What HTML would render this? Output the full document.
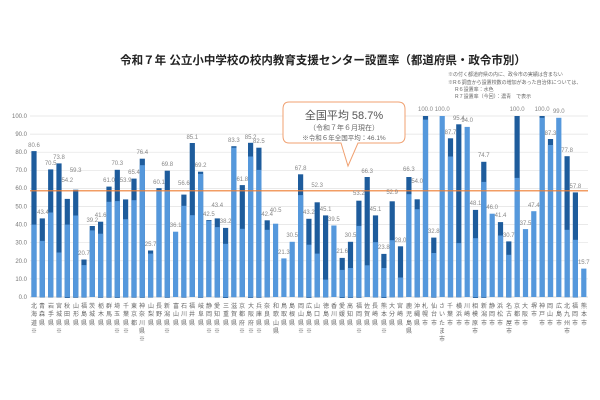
<!DOCTYPE html>
<html><head><meta charset="utf-8"><style>
body{margin:0;width:600px;height:400px;background:#fff;position:relative;overflow:hidden;font-family:"Liberation Sans","Noto Sans CJK JP",sans-serif}
.xl{position:absolute;top:303px;width:6px;font-size:6px;line-height:8.3px;word-break:break-all;color:#666;text-align:center}
</style></head><body>
<svg width="600" height="400" style="position:absolute;left:0;top:0" font-family="Liberation Sans, Noto Sans CJK JP, sans-serif">
<text x="323" y="64" font-size="11.5" font-weight="bold" text-anchor="middle" fill="#222">令和７年 公立小中学校の校内教育支援センター設置率（都道府県・政令市別）</text>
<g font-size="5" fill="#666">
<text x="448" y="76">※の付く都道府県の内に、政令市の実績は含まない</text>
<text x="448" y="84">※R６調査から設置校数の増加があった自治体については、</text>
<text x="455" y="91">R６設置率：水色</text>
<text x="455" y="98">R７設置率（今回）：濃青　で表示</text>
</g>
<g stroke="#e2e2e2" stroke-width="0.7">
<line x1="30" x2="588" y1="116" y2="116"/><line x1="30" x2="588" y1="134.1" y2="134.1"/><line x1="30" x2="588" y1="152.2" y2="152.2"/><line x1="30" x2="588" y1="170.3" y2="170.3"/><line x1="30" x2="588" y1="188.4" y2="188.4"/><line x1="30" x2="588" y1="206.5" y2="206.5"/><line x1="30" x2="588" y1="224.6" y2="224.6"/><line x1="30" x2="588" y1="242.7" y2="242.7"/><line x1="30" x2="588" y1="260.8" y2="260.8"/><line x1="30" x2="588" y1="278.9" y2="278.9"/><line x1="30" x2="588" y1="297" y2="297" stroke="#ccc"/>
</g>
<g font-size="6" fill="#777" text-anchor="end">
<text x="27" y="118">100.0</text><text x="27" y="136">90.0</text><text x="27" y="154">80.0</text><text x="27" y="172">70.0</text><text x="27" y="190">60.0</text><text x="27" y="208.5">50.0</text><text x="27" y="226.5">40.0</text><text x="27" y="244.5">30.0</text><text x="27" y="263">20.0</text><text x="27" y="281">10.0</text><text x="27" y="299">0.0</text>
</g>
<g id="dark" fill="#1e5c9c">
<rect x="31.4" y="151.1" width="5.2" height="146"/>
<rect x="39.7" y="218.4" width="5.2" height="79"/>
<rect x="48.1" y="169.4" width="5.2" height="128"/>
<rect x="56.4" y="163.4" width="5.2" height="134"/>
<rect x="64.7" y="198.9" width="5.2" height="99"/>
<rect x="73.1" y="189.7" width="5.2" height="108"/>
<rect x="81.4" y="259.5" width="5.2" height="38"/>
<rect x="89.7" y="226.0" width="5.2" height="71"/>
<rect x="98.0" y="221.7" width="5.2" height="76"/>
<rect x="106.4" y="186.6" width="5.2" height="111"/>
<rect x="114.7" y="169.8" width="5.2" height="128"/>
<rect x="123.0" y="199.4" width="5.2" height="98"/>
<rect x="131.4" y="178.6" width="5.2" height="119"/>
<rect x="139.7" y="158.7" width="5.2" height="139"/>
<rect x="148.0" y="250.5" width="5.2" height="47"/>
<rect x="156.4" y="188.2" width="5.2" height="109"/>
<rect x="164.7" y="170.7" width="5.2" height="127"/>
<rect x="181.3" y="194.6" width="5.2" height="103"/>
<rect x="189.7" y="143.0" width="5.2" height="154"/>
<rect x="198.0" y="171.7" width="5.2" height="126"/>
<rect x="206.3" y="220.1" width="5.2" height="77"/>
<rect x="214.7" y="218.4" width="5.2" height="79"/>
<rect x="223.0" y="227.9" width="5.2" height="70"/>
<rect x="231.3" y="146.2" width="5.2" height="151"/>
<rect x="239.7" y="185.1" width="5.2" height="112"/>
<rect x="248.0" y="142.8" width="5.2" height="155"/>
<rect x="256.3" y="147.7" width="5.2" height="150"/>
<rect x="264.6" y="220.3" width="5.2" height="77"/>
<rect x="298.0" y="174.3" width="5.2" height="123"/>
<rect x="306.3" y="218.8" width="5.2" height="79"/>
<rect x="314.6" y="202.3" width="5.2" height="95"/>
<rect x="323.0" y="215.4" width="5.2" height="82"/>
<rect x="339.6" y="257.9" width="5.2" height="40"/>
<rect x="347.9" y="241.8" width="5.2" height="56"/>
<rect x="356.3" y="200.7" width="5.2" height="97"/>
<rect x="364.6" y="177.0" width="5.2" height="120"/>
<rect x="372.9" y="215.4" width="5.2" height="82"/>
<rect x="381.3" y="253.9" width="5.2" height="44"/>
<rect x="389.6" y="201.3" width="5.2" height="96"/>
<rect x="397.9" y="246.3" width="5.2" height="51"/>
<rect x="406.3" y="177.0" width="5.2" height="120"/>
<rect x="414.6" y="199.3" width="5.2" height="98"/>
<rect x="422.9" y="116" width="5.2" height="181"/>
<rect x="431.2" y="237.6" width="5.2" height="60"/>
<rect x="447.9" y="138.3" width="5.2" height="159"/>
<rect x="456.2" y="124.3" width="5.2" height="173"/>
<rect x="472.9" y="209.9" width="5.2" height="88"/>
<rect x="481.2" y="161.8" width="5.2" height="136"/>
<rect x="497.9" y="222.1" width="5.2" height="75"/>
<rect x="506.2" y="241.4" width="5.2" height="56"/>
<rect x="514.5" y="116" width="5.2" height="181"/>
<rect x="539.5" y="116" width="5.2" height="181"/>
<rect x="547.9" y="139.0" width="5.2" height="158"/>
<rect x="564.5" y="156.2" width="5.2" height="141"/>
<rect x="572.8" y="192.4" width="5.2" height="105"/>
</g>
<g fill="#5598dc">
<rect x="31.4" y="224.6" width="5.2" height="72.4"/>
<rect x="39.7" y="240.9" width="5.2" height="56.1"/>
<rect x="48.1" y="212.5" width="5.2" height="84.5"/>
<rect x="56.4" y="252.5" width="5.2" height="44.5"/>
<rect x="64.7" y="224.6" width="5.2" height="72.4"/>
<rect x="73.1" y="215.5" width="5.2" height="81.5"/>
<rect x="81.4" y="265.1" width="5.2" height="31.9"/>
<rect x="89.7" y="230.4" width="5.2" height="66.6"/>
<rect x="98.0" y="233.7" width="5.2" height="63.3"/>
<rect x="106.4" y="201.8" width="5.2" height="95.2"/>
<rect x="114.7" y="201.1" width="5.2" height="95.9"/>
<rect x="123.0" y="219.2" width="5.2" height="77.8"/>
<rect x="131.4" y="200.2" width="5.2" height="96.8"/>
<rect x="139.7" y="165.2" width="5.2" height="131.8"/>
<rect x="148.0" y="253.6" width="5.2" height="43.4"/>
<rect x="156.4" y="190.2" width="5.2" height="106.8"/>
<rect x="164.7" y="190.2" width="5.2" height="106.8"/>
<rect x="173.0" y="231.7" width="5.2" height="65.3"/>
<rect x="181.3" y="205.8" width="5.2" height="91.2"/>
<rect x="189.7" y="215.2" width="5.2" height="81.8"/>
<rect x="198.0" y="173.9" width="5.2" height="123.1"/>
<rect x="206.3" y="221.0" width="5.2" height="76"/>
<rect x="214.7" y="227.1" width="5.2" height="69.9"/>
<rect x="223.0" y="243.8" width="5.2" height="53.2"/>
<rect x="231.3" y="147.7" width="5.2" height="149.3"/>
<rect x="239.7" y="228.8" width="5.2" height="68.2"/>
<rect x="248.0" y="156.5" width="5.2" height="140.5"/>
<rect x="256.3" y="169.9" width="5.2" height="127.1"/>
<rect x="264.6" y="229.8" width="5.2" height="67.2"/>
<rect x="273.0" y="223.7" width="5.2" height="73.3"/>
<rect x="281.3" y="258.4" width="5.2" height="38.6"/>
<rect x="289.6" y="241.8" width="5.2" height="55.2"/>
<rect x="298.0" y="195.1" width="5.2" height="101.9"/>
<rect x="306.3" y="244.7" width="5.2" height="52.3"/>
<rect x="314.6" y="253.6" width="5.2" height="43.4"/>
<rect x="323.0" y="279.6" width="5.2" height="17.4"/>
<rect x="331.3" y="225.5" width="5.2" height="71.5"/>
<rect x="339.6" y="269.9" width="5.2" height="27.1"/>
<rect x="347.9" y="268.0" width="5.2" height="29"/>
<rect x="356.3" y="225.9" width="5.2" height="71.1"/>
<rect x="364.6" y="265.3" width="5.2" height="31.7"/>
<rect x="372.9" y="242.2" width="5.2" height="54.8"/>
<rect x="381.3" y="268.0" width="5.2" height="29"/>
<rect x="389.6" y="240.2" width="5.2" height="56.8"/>
<rect x="397.9" y="277.5" width="5.2" height="19.5"/>
<rect x="406.3" y="194.2" width="5.2" height="102.8"/>
<rect x="414.6" y="209.2" width="5.2" height="87.8"/>
<rect x="422.9" y="119.6" width="5.2" height="177.4"/>
<rect x="431.2" y="253.0" width="5.2" height="44"/>
<rect x="439.6" y="116" width="5.2" height="181"/>
<rect x="447.9" y="156.5" width="5.2" height="140.5"/>
<rect x="456.2" y="243.1" width="5.2" height="53.9"/>
<rect x="464.6" y="126.9" width="5.2" height="170.1"/>
<rect x="472.9" y="238.2" width="5.2" height="58.8"/>
<rect x="481.2" y="181.9" width="5.2" height="115.1"/>
<rect x="489.6" y="213.7" width="5.2" height="83.3"/>
<rect x="497.9" y="235.5" width="5.2" height="61.5"/>
<rect x="506.2" y="254.8" width="5.2" height="42.2"/>
<rect x="514.5" y="177.9" width="5.2" height="119.1"/>
<rect x="522.9" y="229.1" width="5.2" height="67.9"/>
<rect x="531.2" y="211.2" width="5.2" height="85.8"/>
<rect x="539.5" y="117.8" width="5.2" height="179.2"/>
<rect x="547.9" y="145.0" width="5.2" height="152"/>
<rect x="556.2" y="117.8" width="5.2" height="179.2"/>
<rect x="564.5" y="229.8" width="5.2" height="67.2"/>
<rect x="572.8" y="239.8" width="5.2" height="57.2"/>
<rect x="581.2" y="268.6" width="5.2" height="28.4"/>
</g>
<line x1="30" x2="588" y1="190.8" y2="190.8" stroke="#ed7d31" stroke-width="1.2"/>
<g font-size="6" fill="#888" text-anchor="middle">
<text x="34" y="147">80.6</text><text x="43" y="214">43.4</text><text x="50.7" y="165">70.5</text><text x="59" y="159">73.8</text><text x="67.3" y="182">54.2</text><text x="75.7" y="172">59.3</text><text x="84" y="255">20.7</text><text x="92.3" y="222">39.2</text><text x="100.6" y="217">41.6</text><text x="109" y="182">61.0</text><text x="117.3" y="165">70.3</text><text x="125.6" y="182">53.9</text><text x="134" y="174">65.4</text><text x="142.3" y="154">76.4</text><text x="150.6" y="246">25.7</text><text x="159" y="184">60.1</text><text x="167.3" y="166">69.8</text><text x="175.6" y="227">36.1</text><text x="183.9" y="185">56.6</text><text x="192.3" y="139">85.1</text><text x="200.6" y="167">69.2</text><text x="208.9" y="216">42.5</text><text x="217.3" y="207">43.4</text><text x="225.6" y="223">38.2</text><text x="233.9" y="142">83.3</text><text x="242.3" y="181">61.8</text><text x="250.6" y="139">85.2</text><text x="258.9" y="143">82.5</text><text x="267.2" y="216">42.4</text><text x="275.6" y="212">40.5</text><text x="283.9" y="254">21.3</text><text x="292.2" y="237">30.5</text><text x="300.6" y="170">67.8</text><text x="308.9" y="214">43.2</text><text x="317.2" y="187">52.3</text><text x="325.6" y="211">45.1</text><text x="333.9" y="221">39.5</text><text x="342.2" y="253">21.6</text><text x="350.5" y="237">30.5</text><text x="358.9" y="195">53.2</text><text x="367.2" y="173">66.3</text><text x="375.5" y="211">45.1</text><text x="383.9" y="249">23.8</text><text x="392.2" y="194">52.9</text><text x="400.5" y="242">28.0</text><text x="408.9" y="171">66.3</text><text x="417.2" y="183">54.0</text><text x="425.5" y="111">100.0</text><text x="433.8" y="233">32.8</text><text x="442.2" y="111">100.0</text><text x="450.5" y="134">87.7</text><text x="458.8" y="120">95.4</text><text x="467.2" y="122">94.0</text><text x="475.5" y="205">48.1</text><text x="483.8" y="157">74.7</text><text x="492.2" y="209">46.0</text><text x="500.5" y="217">41.4</text><text x="508.8" y="237">30.7</text><text x="517.1" y="111">100.0</text><text x="525.5" y="225">37.5</text><text x="533.8" y="207">47.4</text><text x="542.1" y="111">100.0</text><text x="550.5" y="135">87.3</text><text x="558.8" y="113">99.0</text><text x="567.1" y="152">77.8</text><text x="575.4" y="188">57.8</text><text x="583.8" y="264">15.7</text>
</g>
<path d="M289,102 H398 Q405,102 405,109 V136 Q405,143 398,143 H358 L348,166 L341,143 H289 Q283,143 283,136 V109 Q283,102 289,102 Z" fill="#fff" stroke="#f0a070" stroke-width="1"/>
<text x="344" y="119" font-size="11" text-anchor="middle" fill="#555">全国平均 58.7%</text>
<text x="344" y="130" font-size="7" text-anchor="middle" fill="#666">（令和７年６月現在）</text>
<text x="344" y="140" font-size="6.5" text-anchor="middle" fill="#666">※令和６年全国平均：46.1%</text>
</svg>
<div class="xl" style="left:31px">北海道※</div><div class="xl" style="left:39px">青森県</div><div class="xl" style="left:48px">岩手県</div><div class="xl" style="left:56px">宮城県※</div><div class="xl" style="left:64px">秋田県</div><div class="xl" style="left:73px">山形県</div><div class="xl" style="left:81px">福島県</div><div class="xl" style="left:89px">茨城県</div><div class="xl" style="left:98px">栃木県</div><div class="xl" style="left:106px">群馬県</div><div class="xl" style="left:114px">埼玉県※</div><div class="xl" style="left:123px">千葉県※</div><div class="xl" style="left:131px">東京都</div><div class="xl" style="left:139px">神奈川県※</div><div class="xl" style="left:148px">山梨県</div><div class="xl" style="left:156px">長野県</div><div class="xl" style="left:164px">新潟県※</div><div class="xl" style="left:173px">富山県</div><div class="xl" style="left:181px">石川県</div><div class="xl" style="left:189px">福井県</div><div class="xl" style="left:198px">岐阜県</div><div class="xl" style="left:206px">静岡県※</div><div class="xl" style="left:214px">愛知県※</div><div class="xl" style="left:223px">三重県</div><div class="xl" style="left:231px">滋賀県</div><div class="xl" style="left:239px">京都府※</div><div class="xl" style="left:248px">大阪府※</div><div class="xl" style="left:256px">兵庫県※</div><div class="xl" style="left:264px">奈良県</div><div class="xl" style="left:273px">和歌山県</div><div class="xl" style="left:281px">鳥取県</div><div class="xl" style="left:289px">島根県</div><div class="xl" style="left:298px">岡山県※</div><div class="xl" style="left:306px">広島県※</div><div class="xl" style="left:314px">山口県</div><div class="xl" style="left:323px">徳島県</div><div class="xl" style="left:331px">香川県</div><div class="xl" style="left:339px">愛媛県</div><div class="xl" style="left:347px">高知県</div><div class="xl" style="left:356px">福岡県※</div><div class="xl" style="left:364px">佐賀県</div><div class="xl" style="left:372px">長崎県</div><div class="xl" style="left:381px">熊本県※</div><div class="xl" style="left:389px">大分県</div><div class="xl" style="left:397px">宮崎県</div><div class="xl" style="left:406px">鹿児島県</div><div class="xl" style="left:414px">沖縄県</div><div class="xl" style="left:422px">札幌市</div><div class="xl" style="left:431px">仙台市</div><div class="xl" style="left:439px">さいたま市</div><div class="xl" style="left:447px">千葉市</div><div class="xl" style="left:456px">横浜市</div><div class="xl" style="left:464px">川崎市</div><div class="xl" style="left:472px">相模原市</div><div class="xl" style="left:481px">新潟市</div><div class="xl" style="left:489px">静岡市</div><div class="xl" style="left:497px">浜松市</div><div class="xl" style="left:506px">名古屋市</div><div class="xl" style="left:514px">京都市</div><div class="xl" style="left:522px">大阪市</div><div class="xl" style="left:531px">堺市</div><div class="xl" style="left:539px">神戸市</div><div class="xl" style="left:547px">岡山市</div><div class="xl" style="left:556px">広島市</div><div class="xl" style="left:564px">北九州市</div><div class="xl" style="left:572px">福岡市</div><div class="xl" style="left:581px">熊本市</div>
</body></html>
